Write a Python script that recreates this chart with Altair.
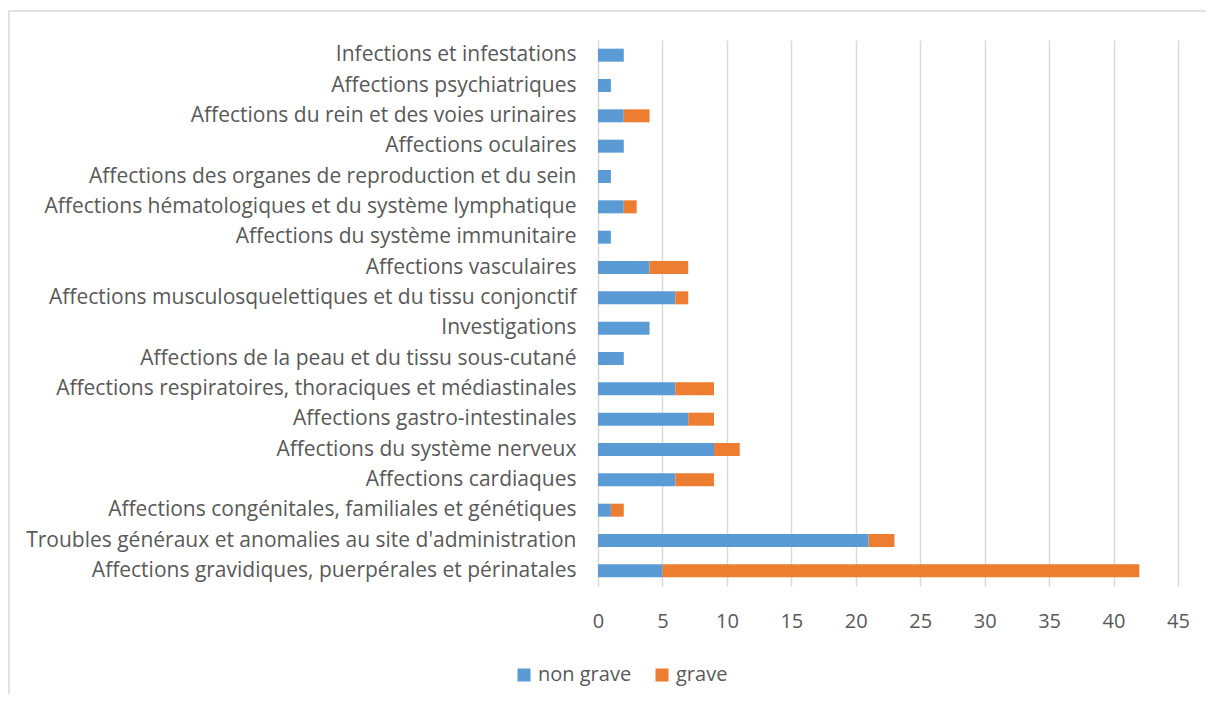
import altair as alt
import pandas as pd

categories = [
    "Infections et infestations",
    "Affections psychiatriques",
    "Affections du rein et des voies urinaires",
    "Affections oculaires",
    "Affections des organes de reproduction et du sein",
    "Affections hématologiques et du système lymphatique",
    "Affections du système immunitaire",
    "Affections vasculaires",
    "Affections musculosquelettiques et du tissu conjonctif",
    "Investigations",
    "Affections de la peau et du tissu sous-cutané",
    "Affections respiratoires, thoraciques et médiastinales",
    "Affections gastro-intestinales",
    "Affections du système nerveux",
    "Affections cardiaques",
    "Affections congénitales, familiales et génétiques",
    "Troubles généraux et anomalies au site d'administration",
    "Affections gravidiques, puerpérales et périnatales",
]
non_grave = [2, 1, 2, 2, 1, 2, 1, 4, 6, 4, 2, 6, 7, 9, 6, 1, 21, 5]
grave = [0, 0, 2, 0, 0, 1, 0, 3, 1, 0, 0, 3, 2, 2, 3, 1, 2, 37]
series = ["non grave", "grave"]
colors = ["#5b9bd5", "#ed7d31"]

rows = []
for c, a, b in zip(categories, non_grave, grave):
    rows.append({"cat": c, "serie": "non grave", "val": a, "ord": 0})
    rows.append({"cat": c, "serie": "grave", "val": b, "ord": 1})
df = pd.DataFrame(rows)

FONT = "Open Sans"
GREY = "#595959"

bars = alt.Chart(df).mark_bar(size=13).encode(
    y=alt.Y("cat:N", sort=categories, title=None,
            axis=alt.Axis(labelFontSize=21, labelColor=GREY, labelFont=FONT,
                          labelPadding=22, labelLimit=700, ticks=False,
                          domain=False, grid=False)),
    x=alt.X("val:Q", stack="zero", title=None,
            scale=alt.Scale(domain=[0, 45], nice=False),
            axis=alt.Axis(values=list(range(0, 50, 5)), labelFontSize=20,
                          labelColor=GREY, labelFont=FONT, labelPadding=25,
                          labelFlush=False, labelOverlap=False,
                          ticks=False, domain=False, grid=True,
                          gridColor="#d9d9d9", gridWidth=1.5)),
    color=alt.Color("serie:N", sort=series,
                    scale=alt.Scale(domain=series, range=colors),
                    legend=alt.Legend(title=None, orient="none", direction="horizontal",
                                      legendX=-84, legendY=625,
                                      symbolType="square", symbolSize=170,
                                      symbolStrokeWidth=0,
                                      labelFontSize=20, labelColor=GREY,
                                      labelFont=FONT, columnPadding=20,
                                      symbolOffset=0, labelOffset=4)),
    order=alt.Order("ord:Q"),
)

border = alt.Chart(pd.DataFrame({"a": [0]})).mark_rect(
    fillOpacity=0, stroke="#d9d9d9", strokeWidth=1.5
).encode(x=alt.value(-589), x2=alt.value(700), y=alt.value(-29), y2=alt.value(700))

chart = alt.layer(border, bars).properties(
    width=580, height=546,
    padding={"left": 590, "top": 32, "right": 28, "bottom": 108},
    autosize=alt.AutoSizeParams(type="none"),
    view=alt.ViewBackground(stroke="transparent", strokeWidth=0),
).configure_view(stroke="transparent", strokeWidth=0).configure(background="white")

chart.save("out.html", embed_options={"renderer": "svg", "actions": False})
